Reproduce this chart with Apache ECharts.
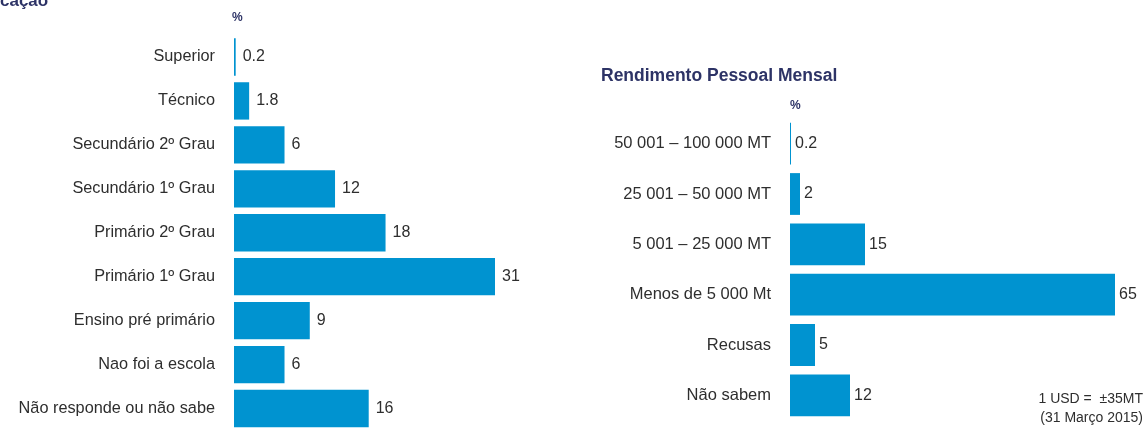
<!DOCTYPE html>
<html>
<head>
<meta charset="utf-8">
<script src="https://cdn.jsdelivr.net/npm/echarts@6/dist/echarts.min.js"></script>
<style>
html,body{margin:0;padding:0;background:#fff;}
#chart{width:1145px;height:441px;}
</style>
</head>
<body>
<div id="chart"></div>
<script>
// Left chart: education level (%)
const eduCategories = ['Superior', 'Técnico', 'Secundário 2º Grau', 'Secundário 1º Grau', 'Primário 2º Grau', 'Primário 1º Grau', 'Ensino pré primário', 'Nao foi a escola', 'Não responde ou não sabe'];
const eduValues = [0.2, 1.8, 6, 12, 18, 31, 9, 6, 16];

// Right chart: monthly personal income (%)
const incomeCategories = ['50 001 – 100 000 MT', '25 001 – 50 000 MT', '5 001 – 25 000 MT', 'Menos de 5 000 Mt', 'Recusas', 'Não sabem'];
const incomeValues = [0.2, 2, 15, 65, 5, 12];

const leftTitle = 'cação';
const rightTitle = 'Rendimento Pessoal Mensal';
const unitLabel = '%';
const noteLines = ['1 USD =  ±35MT', '(31 Março 2015)'];

const FONT = '"Liberation Sans", Arial, sans-serif';
const BAR = '#0093d0';
const TEXT = '#2e2e2e';
const NAVY = '#2d3366';

const chart = echarts.init(document.getElementById('chart'), null, {renderer: 'canvas'});

const option = {
  backgroundColor: '#ffffff',
  animation: false,
  textStyle: {fontFamily: FONT},
  grid: [
    {left: 234, top: 35, width: 261, height: 395.5, containLabel: false},
    {left: 790, top: 118.5, width: 325, height: 302, containLabel: false}
  ],
  xAxis: [
    {gridIndex: 0, type: 'value', min: 0, max: 31, show: false},
    {gridIndex: 1, type: 'value', min: 0, max: 65, show: false}
  ],
  yAxis: [
    {
      gridIndex: 0, type: 'category', data: eduCategories, inverse: true,
      axisLine: {show: false}, axisTick: {show: false}, splitLine: {show: false},
      axisLabel: {color: TEXT, fontSize: 16.3, fontFamily: FONT, margin: 19}
    },
    {
      gridIndex: 1, type: 'category', data: incomeCategories, inverse: true,
      axisLine: {show: false}, axisTick: {show: false}, splitLine: {show: false},
      axisLabel: {color: TEXT, fontSize: 16.5, fontFamily: FONT, margin: 19}
    }
  ],
  series: [
    {
      type: 'bar', xAxisIndex: 0, yAxisIndex: 0, data: eduValues,
      barCategoryGap: '15%',
      itemStyle: {color: BAR},
      label: {show: true, position: 'right', distance: 7, color: TEXT, fontSize: 16, fontFamily: FONT}
    },
    {
      type: 'bar', xAxisIndex: 1, yAxisIndex: 1, data: incomeValues,
      barCategoryGap: '17%',
      itemStyle: {color: BAR},
      label: {show: true, position: 'right', distance: 4, color: TEXT, fontSize: 16, fontFamily: FONT}
    }
  ],
  graphic: [
    {type: 'text', left: 0, top: -7, style: {text: leftTitle, fill: NAVY, font: 'bold 17px ' + FONT}},
    {type: 'text', left: 601, top: 67, style: {text: rightTitle, fill: NAVY, font: 'bold 17.5px ' + FONT}},
    {type: 'text', left: 232, top: 12, style: {text: unitLabel, fill: NAVY, font: 'bold 12px ' + FONT}},
    {type: 'text', left: 790, top: 100, style: {text: unitLabel, fill: NAVY, font: 'bold 12px ' + FONT}},
    {type: 'text', right: 2, top: 392, style: {text: noteLines[0], fill: TEXT, font: '14px ' + FONT, align: 'right'}},
    {type: 'text', right: 2, top: 411, style: {text: noteLines[1], fill: TEXT, font: '14px ' + FONT, align: 'right'}}
  ]
};

chart.setOption(option);
</script>
</body>
</html>
